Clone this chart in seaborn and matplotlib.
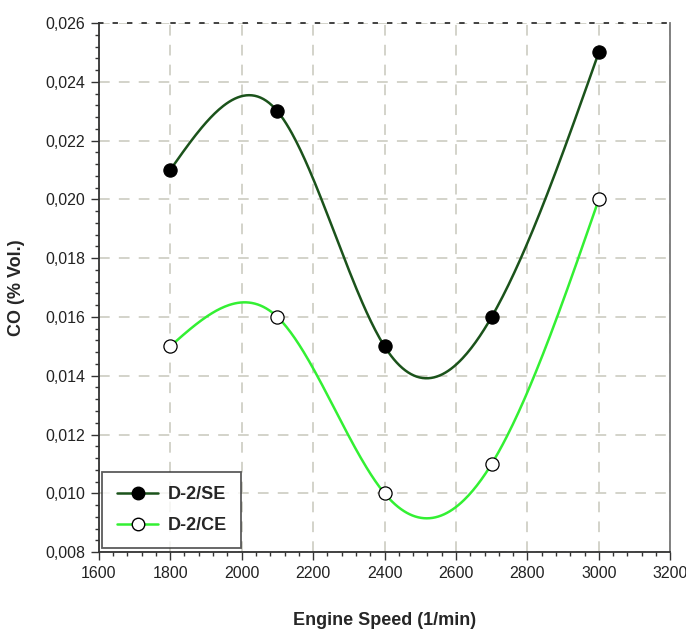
import matplotlib
matplotlib.use('Agg')
import matplotlib.pyplot as plt
import matplotlib.ticker as mticker
import numpy as np
import pandas as pd
import seaborn as sns

engine_speed = [1800, 2100, 2400, 2700, 3000]
co_se = [0.021, 0.023, 0.015, 0.016, 0.025]
co_ce = [0.015, 0.016, 0.010, 0.011, 0.020]
series_names = ['D-2/SE', 'D-2/CE']


def natural_spline(x, y, n=300):
    # natural cubic spline, only used to draw the smooth line through the points
    x = np.asarray(x, float)
    y = np.asarray(y, float)
    k = len(x)
    h = np.diff(x)
    A = np.zeros((k, k))
    b = np.zeros(k)
    A[0, 0] = A[-1, -1] = 1
    for i in range(1, k - 1):
        A[i, i - 1] = h[i - 1]
        A[i, i] = 2 * (h[i - 1] + h[i])
        A[i, i + 1] = h[i]
        b[i] = 6 * ((y[i + 1] - y[i]) / h[i] - (y[i] - y[i - 1]) / h[i - 1])
    m = np.linalg.solve(A, b)
    xs = np.linspace(x[0], x[-1], n)
    idx = np.clip(np.searchsorted(x, xs) - 1, 0, k - 2)
    x0, x1 = x[idx], x[idx + 1]
    hh = x1 - x0
    t0, t1 = x1 - xs, xs - x0
    ys = (m[idx] * t0 ** 3 + m[idx + 1] * t1 ** 3) / (6 * hh) \
        + (y[idx] / hh - m[idx] * hh / 6) * t0 \
        + (y[idx + 1] / hh - m[idx + 1] * hh / 6) * t1
    return xs, ys


sns.set_theme(style='white')
plt.rcParams['font.family'] = ['Liberation Sans', 'DejaVu Sans']

df = pd.DataFrame({
    'speed': engine_speed * 2,
    'co': co_se + co_ce,
    'series': [series_names[0]] * 5 + [series_names[1]] * 5,
})

fig = plt.figure(figsize=(6.86, 6.39), dpi=100)
ax = fig.add_axes([0.144, 0.136, 0.833, 0.828])

line_colors = {'D-2/SE': '#1b531b', 'D-2/CE': '#33f033'}
face_colors = {'D-2/SE': 'black', 'D-2/CE': 'white'}

for name in series_names:
    sub = df[df['series'] == name]
    xs, ys = natural_spline(sub['speed'], sub['co'])
    ax.plot(xs, ys, color=line_colors[name], lw=1.8, zorder=2)
    sns.scatterplot(data=sub, x='speed', y='co', ax=ax, s=90,
                    color=face_colors[name], edgecolor='black', linewidth=0.9,
                    zorder=3, legend=False)

ax.set_xlim(1600, 3200)
ax.set_ylim(0.008, 0.026)
ax.xaxis.set_major_locator(mticker.MultipleLocator(200))
ax.xaxis.set_minor_locator(mticker.MultipleLocator(40))
ax.yaxis.set_major_locator(mticker.MultipleLocator(0.002))
ax.yaxis.set_minor_locator(mticker.MultipleLocator(0.0004))
ax.yaxis.set_major_formatter(mticker.FuncFormatter(lambda v, p: f'{v:.3f}'.replace('.', ',')))
ax.tick_params(axis='both', which='major', direction='out', length=6, width=1,
               color='#333333', labelcolor='#222222', labelsize=11.5, pad=4,
               bottom=True, left=True)
ax.tick_params(axis='both', which='minor', direction='out', length=3, width=1,
               color='#333333', bottom=True, left=True)
ax.grid(True, which='major', color='#c8c8bc', linestyle=(0, (7, 6)), lw=1.1)
for side in ['left', 'bottom']:
    ax.spines[side].set_color('#333333')
    ax.spines[side].set_linewidth(1.3)
ax.spines['right'].set_color('#777777')
ax.spines['right'].set_linewidth(1.3)
ax.spines['top'].set_color('#333333')
ax.spines['top'].set_linestyle((0, (2, 6)))
ax.spines['top'].set_linewidth(1.3)

ax.set_xlabel('Engine Speed (1/min)', fontsize=13, fontweight='bold', labelpad=22)
ax.set_ylabel('CO (% Vol.)', fontsize=13, fontweight='bold', labelpad=14)

handles = [
    plt.Line2D([], [], color=line_colors[n], lw=1.8, marker='o', markersize=9,
               markerfacecolor=face_colors[n], markeredgecolor='black')
    for n in series_names
]
leg = ax.legend(handles, series_names, loc='lower left',
                frameon=True, fancybox=False, borderpad=0.8, handlelength=2.3,
                handletextpad=0.5, labelspacing=0.75, borderaxespad=0.2,
                prop={'weight': 'bold', 'size': 13})
leg.get_frame().set_edgecolor('#333333')
leg.get_frame().set_linewidth(1.3)

fig.savefig('out.png', dpi=100)
